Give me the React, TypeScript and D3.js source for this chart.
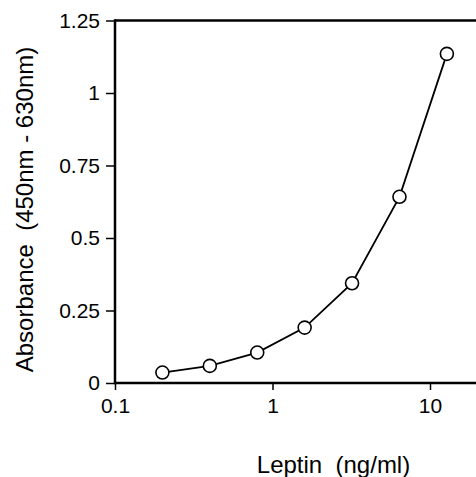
import { useEffect, useRef } from 'react';
import * as d3 from 'd3';

const concentrations = [0.2, 0.4, 0.8, 1.6, 3.2, 6.4, 12.8];
const absorbance = [0.036, 0.059, 0.105, 0.191, 0.344, 0.642, 1.135];
const xTicks = [0.1, 1, 10];
const yTicks = [0, 0.25, 0.5, 0.75, 1, 1.25];

export default function App() {
  const svgRef = useRef<SVGSVGElement>(null);

  useEffect(() => {
    if (!svgRef.current) return;
    const width = 476;
    const height = 477;
    const left = 115;
    const top = 20.5;
    const bottom = 383;
    const font = 'Liberation Sans, Arial, sans-serif';

    const svg = d3.select(svgRef.current);
    svg.selectAll('*').remove();
    svg.attr('width', width).attr('height', height);

    const x = d3.scaleLog().domain([0.1, 20]).range([left, left + 157.5 * Math.log10(200)]);
    const y = d3.scaleLinear().domain([0, 1.25]).range([bottom, top]);

    const data = concentrations.map((c, i) => ({ c, a: absorbance[i] }));

    // Axes
    const yAxis = svg.append('g')
      .attr('transform', `translate(${left},0)`)
      .call(d3.axisLeft(y).tickValues(yTicks).tickSize(9).tickPadding(6)
        .tickFormat((d) => `${d}`));
    yAxis.select('.domain').remove();
    yAxis.selectAll('line').attr('stroke', '#000').attr('stroke-width', 1.5);
    yAxis.selectAll('text')
      .attr('fill', '#000')
      .attr('font-family', font)
      .attr('font-size', '21px');

    const xAxis = svg.append('g')
      .attr('transform', `translate(0,${bottom})`)
      .call(d3.axisBottom(x).tickValues(xTicks).tickSize(7).tickPadding(8)
        .tickFormat((d) => `${d}`));
    xAxis.select('.domain').remove();
    xAxis.selectAll('line').attr('stroke', '#000').attr('stroke-width', 1.5);
    xAxis.selectAll('text')
      .attr('fill', '#000')
      .attr('font-family', font)
      .attr('font-size', '21px');

    // Frame lines
    svg.append('line')
      .attr('x1', left).attr('x2', width)
      .attr('y1', bottom).attr('y2', bottom)
      .attr('stroke', '#000').attr('stroke-width', 2.5);
    svg.append('line')
      .attr('x1', left).attr('x2', width)
      .attr('y1', top).attr('y2', top)
      .attr('stroke', '#000').attr('stroke-width', 2.5);
    svg.append('line')
      .attr('x1', left).attr('x2', left)
      .attr('y1', top - 1.25).attr('y2', bottom + 1.25)
      .attr('stroke', '#000').attr('stroke-width', 2.5);

    // Curve
    const line = d3.line<{ c: number; a: number }>()
      .x((d) => x(d.c))
      .y((d) => y(d.a));
    svg.append('path')
      .datum(data)
      .attr('fill', 'none')
      .attr('stroke', '#000')
      .attr('stroke-width', 1.8)
      .attr('d', line);

    svg.selectAll('.pt')
      .data(data)
      .join('circle')
      .attr('class', 'pt')
      .attr('cx', (d) => x(d.c))
      .attr('cy', (d) => y(d.a))
      .attr('r', 6.5)
      .attr('fill', '#fff')
      .attr('stroke', '#000')
      .attr('stroke-width', 1.6);

    // Titles
    svg.append('text')
      .attr('x', 333.5)
      .attr('y', 473)
      .attr('text-anchor', 'middle')
      .attr('font-family', font)
      .attr('font-size', '24px')
      .attr('xml:space', 'preserve')
      .style('white-space', 'pre')
      .text('Leptin  (ng/ml)');

    svg.append('text')
      .attr('transform', 'translate(33,209.5) rotate(-90)')
      .attr('text-anchor', 'middle')
      .attr('font-family', font)
      .attr('font-size', '24px')
      .style('white-space', 'pre')
      .text('Absorbance  (450nm - 630nm)');
  }, []);

  return (
    <svg ref={svgRef} style={{ position: 'absolute', left: 0, top: 0, background: '#fff' }} />
  );
}
